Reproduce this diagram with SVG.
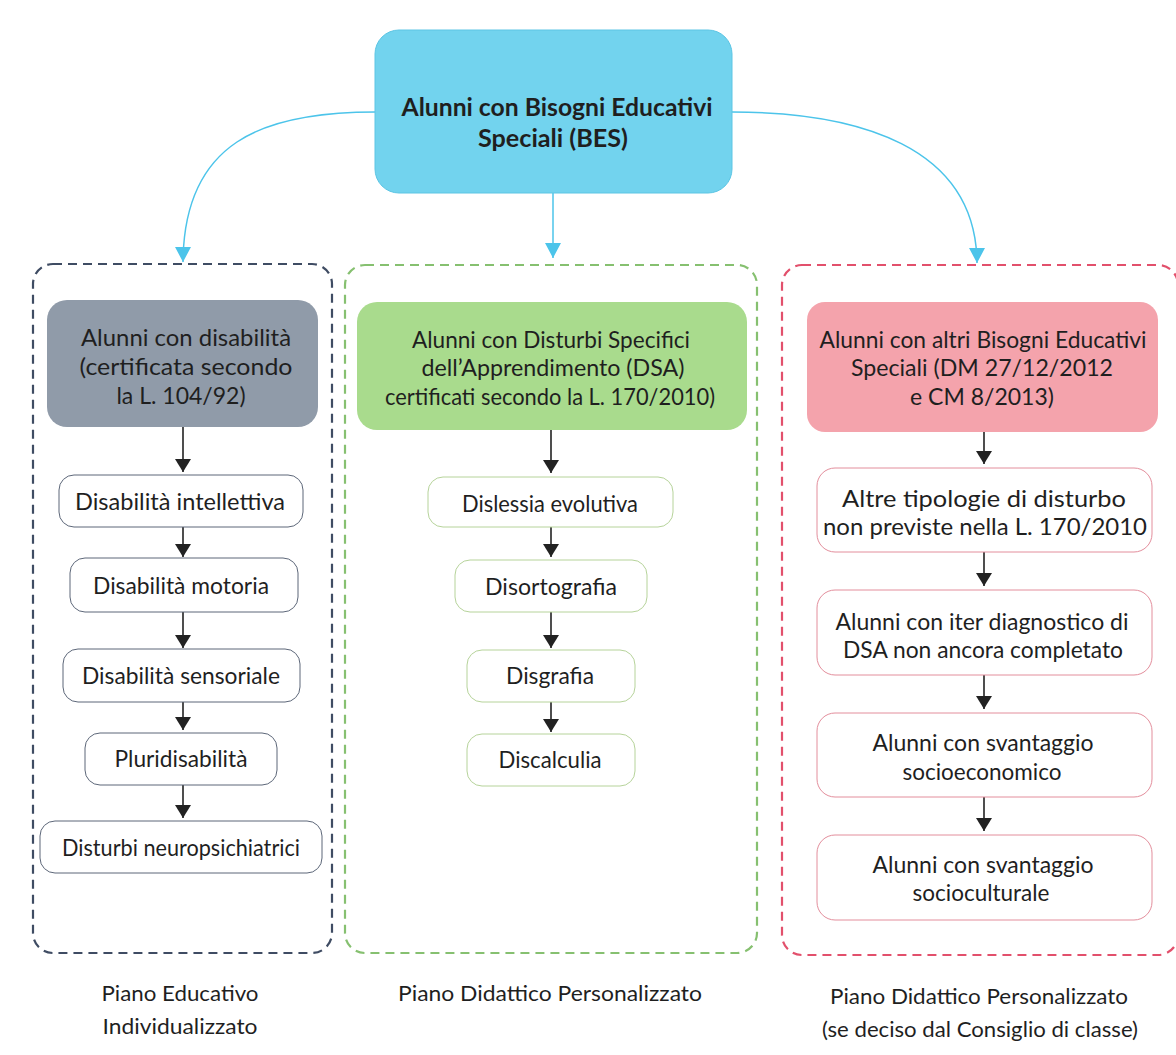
<svg xmlns="http://www.w3.org/2000/svg" width="1176" height="1055" viewBox="0 0 1176 1055">
<defs>
<marker id="cy" markerWidth="16" markerHeight="15" refX="8" refY="15" markerUnits="userSpaceOnUse" viewBox="0 0 16 15">
<path d="M0,0 L16,0 L8,15 Z" fill="#4cc4ea"/>
</marker>
<marker id="bk" markerWidth="16" markerHeight="13" refX="8" refY="13" markerUnits="userSpaceOnUse" viewBox="0 0 16 13">
<path d="M0,0 L16,0 L8,13 Z" fill="#222"/>
</marker>
</defs>
<style>
text{font-family:Lato,"Open Sans","Liberation Sans",sans-serif;fill:#1f1f1f;text-anchor:middle}
.t{font-size:25px;font-weight:bold}
.h{font-size:23px}
.i{font-size:23px}
.l{font-size:22px}
.cyl{fill:none;stroke:#4cc4ea;stroke-width:1.5}
.bl{fill:none;stroke:#222;stroke-width:1.6}
.c1{fill:none;stroke:#3f4c63;stroke-width:2.2;stroke-dasharray:9 6}
.c2{fill:none;stroke:#86c070;stroke-width:2.2;stroke-dasharray:9 6}
.c3{fill:none;stroke:#e2506c;stroke-width:2.2;stroke-dasharray:9 6}
.b1{fill:#fff;stroke:#5d6779;stroke-width:1}
.b2{fill:#fff;stroke:#b6d39a;stroke-width:1}
.b3{fill:#fff;stroke:#e38e9c;stroke-width:1}
</style>
<rect width="1176" height="1055" fill="#fff"/>

<g id="containers">
<rect x="33" y="264" width="299" height="689" rx="20" class="c1"/>
<rect x="345" y="265" width="412" height="688" rx="20" class="c2"/>
<rect x="782" y="265" width="396" height="690" rx="20" class="c3"/>
</g>

<g id="connectors">
<path d="M375,112 C262,112 184,142 183,262" class="cyl" marker-end="url(#cy)"/>
<path d="M553,193 L553,258" class="cyl" marker-end="url(#cy)"/>
<path d="M732,112 C858,112 976,146 977,263" class="cyl" marker-end="url(#cy)"/>
<path d="M183,427 L183,472" class="bl" marker-end="url(#bk)"/>
<path d="M183,527 L183,557" class="bl" marker-end="url(#bk)"/>
<path d="M183,612 L183,648" class="bl" marker-end="url(#bk)"/>
<path d="M183,702 L183,730" class="bl" marker-end="url(#bk)"/>
<path d="M183,785 L183,818" class="bl" marker-end="url(#bk)"/>
<path d="M551,430 L551,473" class="bl" marker-end="url(#bk)"/>
<path d="M551,527 L551,557" class="bl" marker-end="url(#bk)"/>
<path d="M551,612 L551,648" class="bl" marker-end="url(#bk)"/>
<path d="M551,702 L551,732" class="bl" marker-end="url(#bk)"/>
<path d="M984,432 L984,464" class="bl" marker-end="url(#bk)"/>
<path d="M984,552 L984,586" class="bl" marker-end="url(#bk)"/>
<path d="M984,675 L984,709" class="bl" marker-end="url(#bk)"/>
<path d="M984,797 L984,831" class="bl" marker-end="url(#bk)"/>
</g>

<g id="bes">
<rect x="375" y="30" width="357" height="163" rx="24" fill="#72d3ee" stroke="#5cc5e4" stroke-width="1"/>
<text class="t" x="557" y="116" textLength="311" lengthAdjust="spacingAndGlyphs">Alunni con Bisogni Educativi</text>
<text class="t" x="553" y="147" textLength="150" lengthAdjust="spacingAndGlyphs">Speciali (BES)</text>
</g>

<g id="disabilita">
<rect x="47" y="300" width="271" height="127" rx="20" fill="#909ba9"/>
<text class="h" x="186" y="346" textLength="210" lengthAdjust="spacingAndGlyphs">Alunni con disabilità</text>
<text class="h" x="186" y="375" textLength="213" lengthAdjust="spacingAndGlyphs">(certificata secondo</text>
<text class="h" x="181" y="404">la L. 104/92)</text>
</g>
<g id="d-intellettiva"><rect x="59" y="475" width="244" height="52" rx="15" class="b1"/><text class="i" x="180" y="510" textLength="210" lengthAdjust="spacingAndGlyphs">Disabilità intellettiva</text></g>
<g id="d-motoria"><rect x="70" y="558" width="228" height="54" rx="15" class="b1"/><text class="i" x="181" y="594" textLength="176" lengthAdjust="spacingAndGlyphs">Disabilità motoria</text></g>
<g id="d-sensoriale"><rect x="63" y="649" width="237" height="53" rx="15" class="b1"/><text class="i" x="181" y="684" textLength="198" lengthAdjust="spacingAndGlyphs">Disabilità sensoriale</text></g>
<g id="d-pluri"><rect x="85" y="733" width="192" height="52" rx="15" class="b1"/><text class="i" x="181" y="767" textLength="133" lengthAdjust="spacingAndGlyphs">Pluridisabilità</text></g>
<g id="d-neuro"><rect x="40" y="821" width="282" height="52" rx="15" class="b1"/><text class="i" x="181" y="856" textLength="238" lengthAdjust="spacingAndGlyphs">Disturbi neuropsichiatrici</text></g>

<g id="dsa">
<rect x="357" y="302" width="390" height="128" rx="20" fill="#a9db8d"/>
<text class="h" x="551" y="348" textLength="278" lengthAdjust="spacingAndGlyphs">Alunni con Disturbi Specifici</text>
<text class="h" x="553" y="376" textLength="263" lengthAdjust="spacingAndGlyphs">dell’Apprendimento (DSA)</text>
<text class="h" x="550" y="405" textLength="330" lengthAdjust="spacingAndGlyphs">certificati secondo la L. 170/2010)</text>
</g>
<g id="dislessia"><rect x="428" y="477" width="245" height="50" rx="15" class="b2"/><text class="i" x="550" y="512" textLength="176" lengthAdjust="spacingAndGlyphs">Dislessia evolutiva</text></g>
<g id="disortografia"><rect x="455" y="560" width="192" height="52" rx="15" class="b2"/><text class="i" x="551" y="595" textLength="132" lengthAdjust="spacingAndGlyphs">Disortografia</text></g>
<g id="disgrafia"><rect x="467" y="650" width="168" height="52" rx="15" class="b2"/><text class="i" x="550" y="684" textLength="88" lengthAdjust="spacingAndGlyphs">Disgrafia</text></g>
<g id="discalculia"><rect x="467" y="734" width="168" height="52" rx="15" class="b2"/><text class="i" x="550" y="768" textLength="103" lengthAdjust="spacingAndGlyphs">Discalculia</text></g>

<g id="altri-bes">
<rect x="807" y="302" width="351" height="130" rx="18" fill="#f4a3ac"/>
<text class="h" x="983" y="348" textLength="327" lengthAdjust="spacingAndGlyphs">Alunni con altri Bisogni Educativi</text>
<text class="h" x="982" y="376" textLength="262" lengthAdjust="spacingAndGlyphs">Speciali (DM 27/12/2012</text>
<text class="h" x="982" y="405">e CM 8/2013)</text>
</g>
<g id="altre-tipologie"><rect x="817" y="468" width="335" height="84" rx="18" class="b3"/><text class="i" x="984" y="507" textLength="284" lengthAdjust="spacingAndGlyphs">Altre tipologie di disturbo</text><text class="i" x="985" y="535" textLength="324" lengthAdjust="spacingAndGlyphs">non previste nella L. 170/2010</text></g>
<g id="iter-dsa"><rect x="817" y="590" width="335" height="85" rx="18" class="b3"/><text class="i" x="982" y="630" textLength="293" lengthAdjust="spacingAndGlyphs">Alunni con iter diagnostico di</text><text class="i" x="983" y="658" textLength="280" lengthAdjust="spacingAndGlyphs">DSA non ancora completato</text></g>
<g id="socioeconomico"><rect x="817" y="713" width="335" height="84" rx="18" class="b3"/><text class="i" x="983" y="751" textLength="221" lengthAdjust="spacingAndGlyphs">Alunni con svantaggio</text><text class="i" x="982" y="780" textLength="159" lengthAdjust="spacingAndGlyphs">socioeconomico</text></g>
<g id="socioculturale"><rect x="817" y="835" width="335" height="85" rx="18" class="b3"/><text class="i" x="983" y="873" textLength="221" lengthAdjust="spacingAndGlyphs">Alunni con svantaggio</text><text class="i" x="981" y="901" textLength="137" lengthAdjust="spacingAndGlyphs">socioculturale</text></g>

<g id="labels">
<text class="l" x="180" y="1001" textLength="157" lengthAdjust="spacingAndGlyphs">Piano Educativo</text>
<text class="l" x="180" y="1034" textLength="155" lengthAdjust="spacingAndGlyphs">Individualizzato</text>
<text class="l" x="550" y="1001" textLength="304" lengthAdjust="spacingAndGlyphs">Piano Didattico Personalizzato</text>
<text class="l" x="979" y="1004" textLength="298" lengthAdjust="spacingAndGlyphs">Piano Didattico Personalizzato</text>
<text class="l" x="980" y="1037" textLength="316" lengthAdjust="spacingAndGlyphs">(se deciso dal Consiglio di classe)</text>
</g>
</svg>
